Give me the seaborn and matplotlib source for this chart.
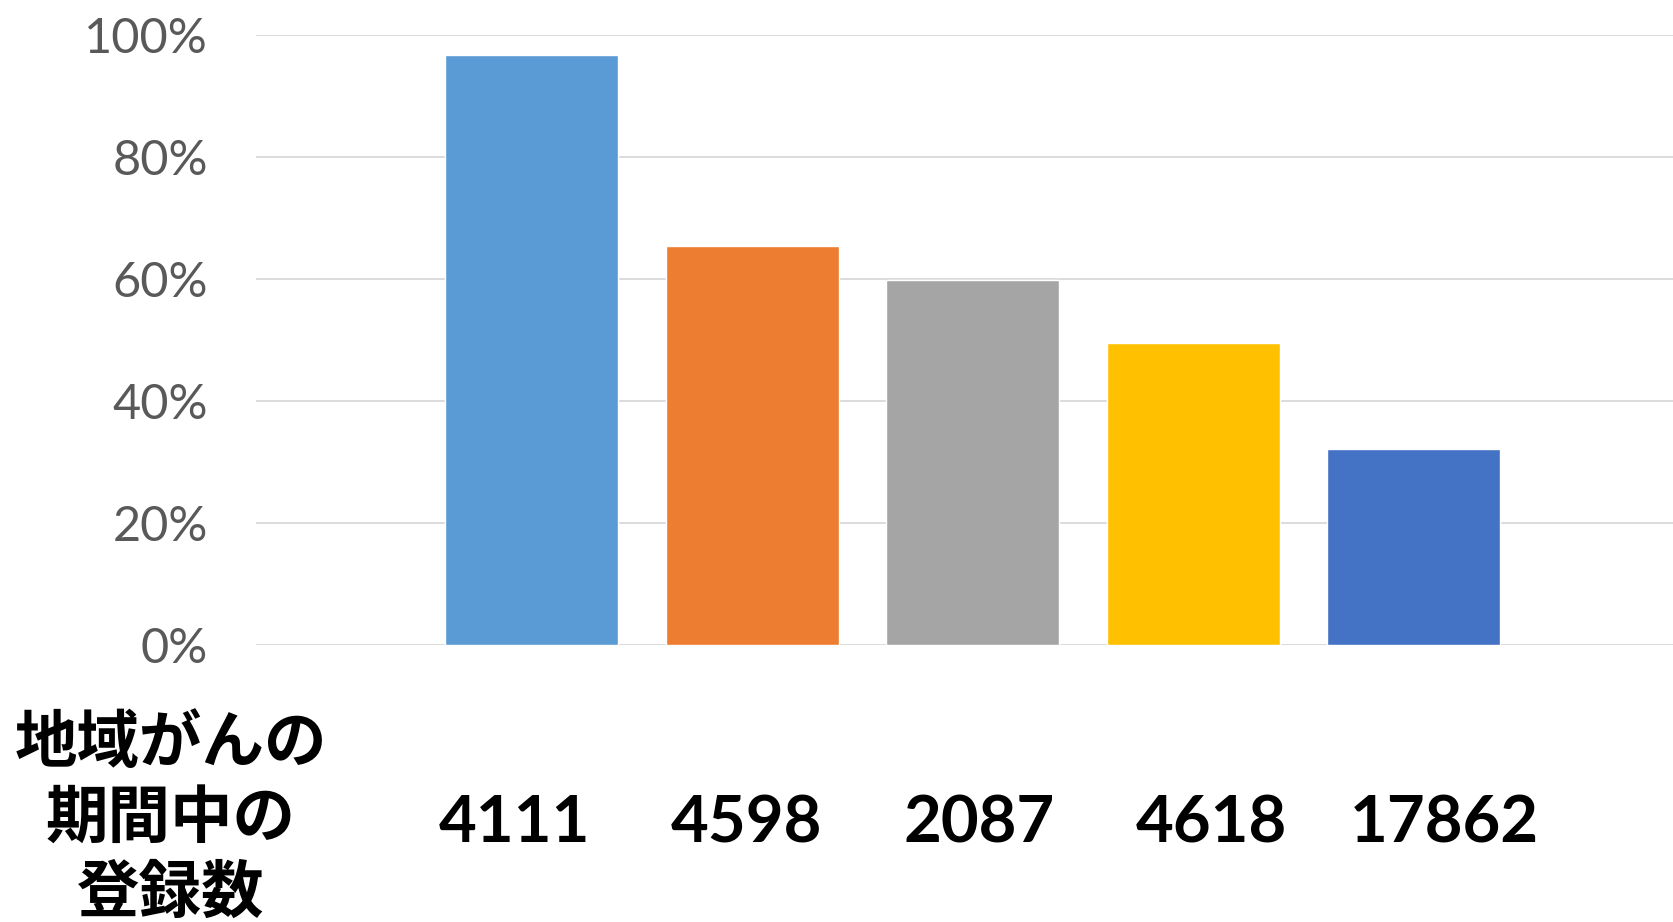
import matplotlib
matplotlib.use("Agg")
import matplotlib.pyplot as plt
import seaborn as sns
import pandas as pd
from matplotlib.ticker import PercentFormatter

# Data
registrations = ["4111", "4598", "2087", "4618", "17862"]
shares = [0.967, 0.654, 0.598, 0.495, 0.321]
colors = ["#5B9BD5", "#ED7D31", "#A5A5A5", "#FFC000", "#4472C4"]
yticks = [0.0, 0.2, 0.4, 0.6, 0.8, 1.0]
row_label = "地域がんの\n期間中の\n登録数"

df = pd.DataFrame({"reg": registrations, "share": shares})

sns.set_theme(style="white")
plt.rcParams["font.family"] = ["Lato", "Noto Sans CJK JP", "DejaVu Sans"]

fig = plt.figure(figsize=(16.74, 9.22), dpi=100)
rect = [256 / 1674, 1 - 644.6 / 922, 1 - 256 / 1674, (644.6 - 35.2) / 922]
ax = fig.add_axes(rect)

sns.barplot(data=df, x="reg", y="share", hue="reg", palette=colors,
            order=registrations, hue_order=registrations,
            width=0.785, saturation=1, legend=False, ax=ax, zorder=2)

ax.set_xlim(-1.25, 5.18)
ax.set_ylim(0, 1.0)
ax.set_yticks(yticks)
ax.yaxis.set_major_formatter(PercentFormatter(1.0, decimals=0))
ax.grid(axis="y", color="#d9d9d9", linewidth=1.3, zorder=0)
ax.set_axisbelow(True)
for s in ax.spines.values():
    s.set_visible(False)
ax.set_xlabel("")
ax.set_ylabel("")
ax.set_xticks([])
ax.tick_params(axis="y", length=0, pad=34.5, labelsize=35, labelcolor="#595959")

# Table-like row of registration counts (own spacing, as in the source table row)
axl = fig.add_axes(rect, frameon=False)
axl.set_xlim(-1.11, 4.99)
axl.set_ylim(0, 1)
axl.set_yticks([])
axl.set_xticks(range(len(registrations)))
axl.set_xticklabels(registrations)
axl.tick_params(axis="x", length=0, pad=129, labelsize=47, labelcolor="black")
for lab in axl.get_xticklabels():
    lab.set_fontweight("bold")
    lab.set_va("center")

fig.text(171 / 1674, 1 - 818 / 922, row_label, ha="center", va="center",
         multialignment="center", fontsize=45, fontweight="bold", color="black",
         linespacing=1.24, family=["Noto Sans CJK JP", "DejaVu Sans"])

fig.savefig("out.png", dpi=100, facecolor="white")
